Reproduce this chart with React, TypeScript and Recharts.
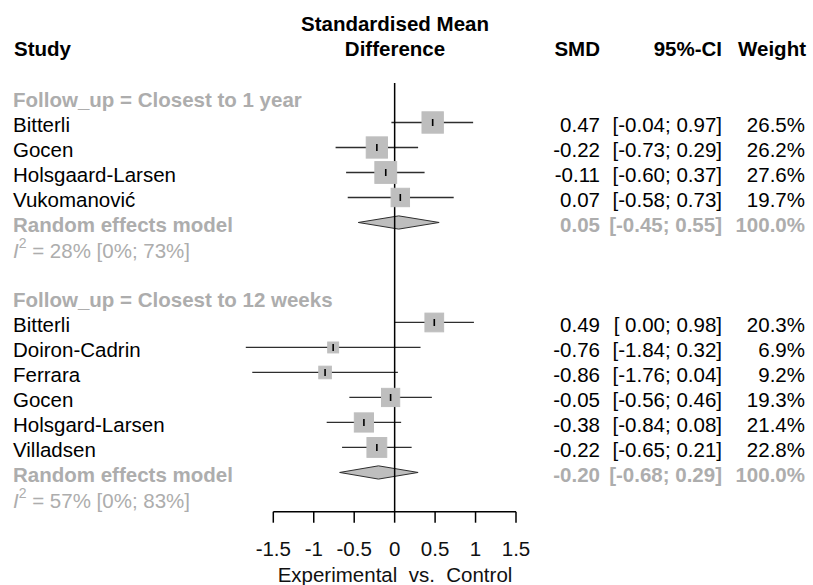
import React from 'react';
import { ComposedChart, XAxis, YAxis, Scatter, Area, ReferenceLine } from 'recharts';

// ---------- data ----------
const group1Label = 'Follow_up = Closest to 1 year';
const group1Studies = ['Bitterli', 'Gocen', 'Holsgaard-Larsen', 'Vukomanović'];
const group1Smd = [0.47, -0.22, -0.11, 0.07];
const group1Lower = [-0.04, -0.73, -0.6, -0.58];
const group1Upper = [0.97, 0.29, 0.37, 0.73];
const group1Weight = [26.5, 26.2, 27.6, 19.7];
const group1Pooled = [0.05, -0.45, 0.55]; // SMD, lower, upper
const group1I2 = ['28%', '0%', '73%'];

const group2Label = 'Follow_up = Closest to 12 weeks';
const group2Studies = ['Bitterli', 'Doiron-Cadrin', 'Ferrara', 'Gocen', 'Holsgard-Larsen', 'Villadsen'];
const group2Smd = [0.49, -0.76, -0.86, -0.05, -0.38, -0.22];
const group2Lower = [0.0, -1.84, -1.76, -0.56, -0.84, -0.65];
const group2Upper = [0.98, 0.32, 0.04, 0.46, 0.08, 0.21];
const group2Weight = [20.3, 6.9, 9.2, 19.3, 21.4, 22.8];
const group2Pooled = [-0.2, -0.68, 0.29];
const group2I2 = ['57%', '0%', '83%'];

const pooledLabel = 'Random effects model';
const xTicks = [-1.5, -1, -0.5, 0, 0.5, 1, 1.5];
const xLabel = 'Experimental  vs.  Control';
const effectHeader = ['Standardised Mean', 'Difference'];
const studyHeader = 'Study';
const smdHeader = 'SMD';
const ciHeader = '95%-CI';
const weightHeader = 'Weight';

// ---------- styling / layout constants ----------
const FONT = '"Liberation Sans", Arial, Helvetica, sans-serif';
const FS = 20.5;
const W = 813;
const H = 585;
const GRAY = '#adadad';
const SQUARE_FILL = '#bebebe';
const LINE_COL = '#2e2e2e';
const SQUARE_SCALE = 4.15; // px per sqrt(weight %)
const DIAMOND_HALF = 0.265; // rows
const Y_DOMAIN: [number, number] = [-0.58, 16.57];
const TEXT_DY = 2.5;
const COL_LABEL_X = 13;
const COL_SMD_X = 600;
const COL_CI_X = 722;
const COL_W_X = 805;

type Row = {
  row: number;
  kind: 'group' | 'study' | 'pooled' | 'het';
  label: string;
  smd?: number;
  lower?: number;
  upper?: number;
  weight?: number;
  het?: string[];
};

const groups = [
  { label: group1Label, studies: group1Studies, smd: group1Smd, lower: group1Lower, upper: group1Upper, weight: group1Weight, pooled: group1Pooled, i2: group1I2 },
  { label: group2Label, studies: group2Studies, smd: group2Smd, lower: group2Lower, upper: group2Upper, weight: group2Weight, pooled: group2Pooled, i2: group2I2 },
];

const rows: Row[] = [];
(() => {
  let r = 0;
  groups.forEach((g, gi) => {
    if (gi > 0) r += 1;
    rows.push({ row: r++, kind: 'group', label: g.label });
    g.studies.forEach((s, i) =>
      rows.push({ row: r++, kind: 'study', label: s, smd: g.smd[i], lower: g.lower[i], upper: g.upper[i], weight: g.weight[i] })
    );
    rows.push({ row: r++, kind: 'pooled', label: pooledLabel, smd: g.pooled[0], lower: g.pooled[1], upper: g.pooled[2], weight: 100 });
    rows.push({ row: r++, kind: 'het', label: '', het: g.i2 });
  });
})();

const rowByIndex = new Map<number, Row>(rows.map((r) => [r.row, r]));
const rowTicks = rows.map((r) => r.row);
const studyRows = rows.filter((r) => r.kind === 'study');
const pooledRows = rows.filter((r) => r.kind === 'pooled');
const squareData = studyRows.map((r) => ({ x: r.smd, y: r.row, w: r.weight }));
const diamondData = pooledRows.map((r) => [
  { x: r.lower, range: [r.row, r.row] },
  { x: r.smd, range: [r.row - DIAMOND_HALF, r.row + DIAMOND_HALF] },
  { x: r.upper, range: [r.row, r.row] },
]);

const f2 = (v: number) => v.toFixed(2);
const fmtCI = (lo: number, hi: number) => `[${lo < 0 ? '' : ' '}${f2(lo)}; ${f2(hi)}]`;
const fmtW = (w: number) => `${w.toFixed(1)}%`;

// ---------- shapes ----------
const SquareShape = (props: any) => {
  const { cx, cy, payload } = props;
  if (cx == null || cy == null) return null;
  const side = SQUARE_SCALE * Math.sqrt(payload.w);
  return (
    <g>
      <rect x={cx - side / 2} y={cy - side / 2} width={side} height={side} fill={SQUARE_FILL} stroke={SQUARE_FILL} strokeWidth={1} />
      <line x1={cx} x2={cx} y1={cy - 3.5} y2={cy + 3.5} stroke="#000" strokeWidth={1.6} />
    </g>
  );
};

const LeftTick = (props: any) => {
  const { y, payload } = props;
  const row = rowByIndex.get(payload.value);
  if (!row) return null;
  const ty = y + TEXT_DY;
  if (row.kind === 'het') {
    const [i2, lo, hi] = row.het as string[];
    return (
      <text x={COL_LABEL_X} y={ty} dominantBaseline="central" fontFamily={FONT} fontSize={FS} fill={GRAY}>
        <tspan fontStyle="italic">I</tspan>
        <tspan dy={-7} fontSize={14}>2</tspan>
        <tspan dy={7}>{` = ${i2} [${lo}; ${hi}]`}</tspan>
      </text>
    );
  }
  const bold = row.kind === 'group' || row.kind === 'pooled';
  return (
    <text x={COL_LABEL_X} y={ty} dominantBaseline="central" fontFamily={FONT} fontSize={FS} fontWeight={bold ? 'bold' : 'normal'} fill={bold ? GRAY : '#000'}>
      {row.label}
    </text>
  );
};

const RightTick = (props: any) => {
  const { y, payload } = props;
  const row = rowByIndex.get(payload.value);
  if (!row || (row.kind !== 'study' && row.kind !== 'pooled')) return null;
  const ty = y + TEXT_DY;
  const pooled = row.kind === 'pooled';
  const common = {
    y: ty,
    dominantBaseline: 'central' as const,
    fontFamily: FONT,
    fontSize: FS,
    fontWeight: pooled ? 'bold' : 'normal',
    fill: pooled ? GRAY : '#000',
    textAnchor: 'end' as const,
    style: { whiteSpace: 'pre' as const },
  };
  return (
    <g>
      <text x={COL_SMD_X} {...common}>{f2(row.smd as number)}</text>
      <text x={COL_CI_X} {...common}>{fmtCI(row.lower as number, row.upper as number)}</text>
      <text x={COL_W_X} {...common}>{fmtW(row.weight as number)}</text>
    </g>
  );
};

export default function App() {
  return (
    <div style={{ position: 'absolute', left: 0, top: 0, width: W, height: H, background: '#fff' }}>
      <ComposedChart width={W} height={H} margin={{ top: 83, right: 0, bottom: 0, left: 0 }}>
        <XAxis
          type="number"
          dataKey="x"
          domain={[-1.5, 1.5]}
          allowDataOverflow
          ticks={xTicks}
          interval={0}
          tickSize={11}
          tickMargin={19}
          height={73.3}
          axisLine={{ stroke: '#000', strokeWidth: 1.5 }}
          tickLine={{ stroke: '#000', strokeWidth: 1.5 }}
          tick={{ fill: '#111', fontSize: FS, fontFamily: FONT }}
          tickFormatter={(v: number) => String(v)}
        />
        <YAxis
          yAxisId="left"
          type="number"
          dataKey="y"
          domain={Y_DOMAIN}
          allowDataOverflow
          reversed
          ticks={rowTicks}
          interval={0}
          width={273.3}
          axisLine={false}
          tickLine={false}
          tick={LeftTick}
        />
        <YAxis
          yAxisId="right"
          orientation="right"
          type="number"
          domain={Y_DOMAIN}
          allowDataOverflow
          reversed
          ticks={rowTicks}
          interval={0}
          width={297}
          axisLine={false}
          tickLine={false}
          tick={RightTick}
        />
        {studyRows.map((r) => (
          <ReferenceLine
            key={`ci-${r.row}`}
            yAxisId="left"
            segment={[{ x: r.lower, y: r.row }, { x: r.upper, y: r.row }]}
            ifOverflow="visible"
            stroke={LINE_COL}
            strokeWidth={1.3}
          />
        ))}
        {diamondData.map((d, i) => (
          <Area
            key={`diamond-${i}`}
            yAxisId="left"
            data={d}
            dataKey="range"
            type="linear"
            fill={SQUARE_FILL}
            fillOpacity={1}
            stroke={LINE_COL}
            strokeWidth={1}
            dot={false}
            activeDot={false}
            isAnimationActive={false}
          />
        ))}
        <Scatter yAxisId="left" data={squareData} shape={SquareShape} isAnimationActive={false} />
        <ReferenceLine yAxisId="left" x={0} stroke="#000" strokeWidth={1.5} />
      </ComposedChart>
      <svg width={W} height={H} style={{ position: 'absolute', left: 0, top: 0, pointerEvents: 'none' }}>
        <g fontFamily={FONT} fontSize={FS} fill="#000">
          <text x={395} y={31} textAnchor="middle" fontWeight="bold">{effectHeader[0]}</text>
          <text x={395} y={55.5} textAnchor="middle" fontWeight="bold">{effectHeader[1]}</text>
          <text x={14} y={56} fontWeight="bold">{studyHeader}</text>
          <text x={COL_SMD_X} y={56} textAnchor="end" fontWeight="bold">{smdHeader}</text>
          <text x={COL_CI_X} y={56} textAnchor="end" fontWeight="bold">{ciHeader}</text>
          <text x={806} y={56} textAnchor="end" fontWeight="bold">{weightHeader}</text>
          <text x={395} y={582} textAnchor="middle" fill="#111" style={{ whiteSpace: 'pre' }}>{xLabel}</text>
        </g>
      </svg>
    </div>
  );
}
